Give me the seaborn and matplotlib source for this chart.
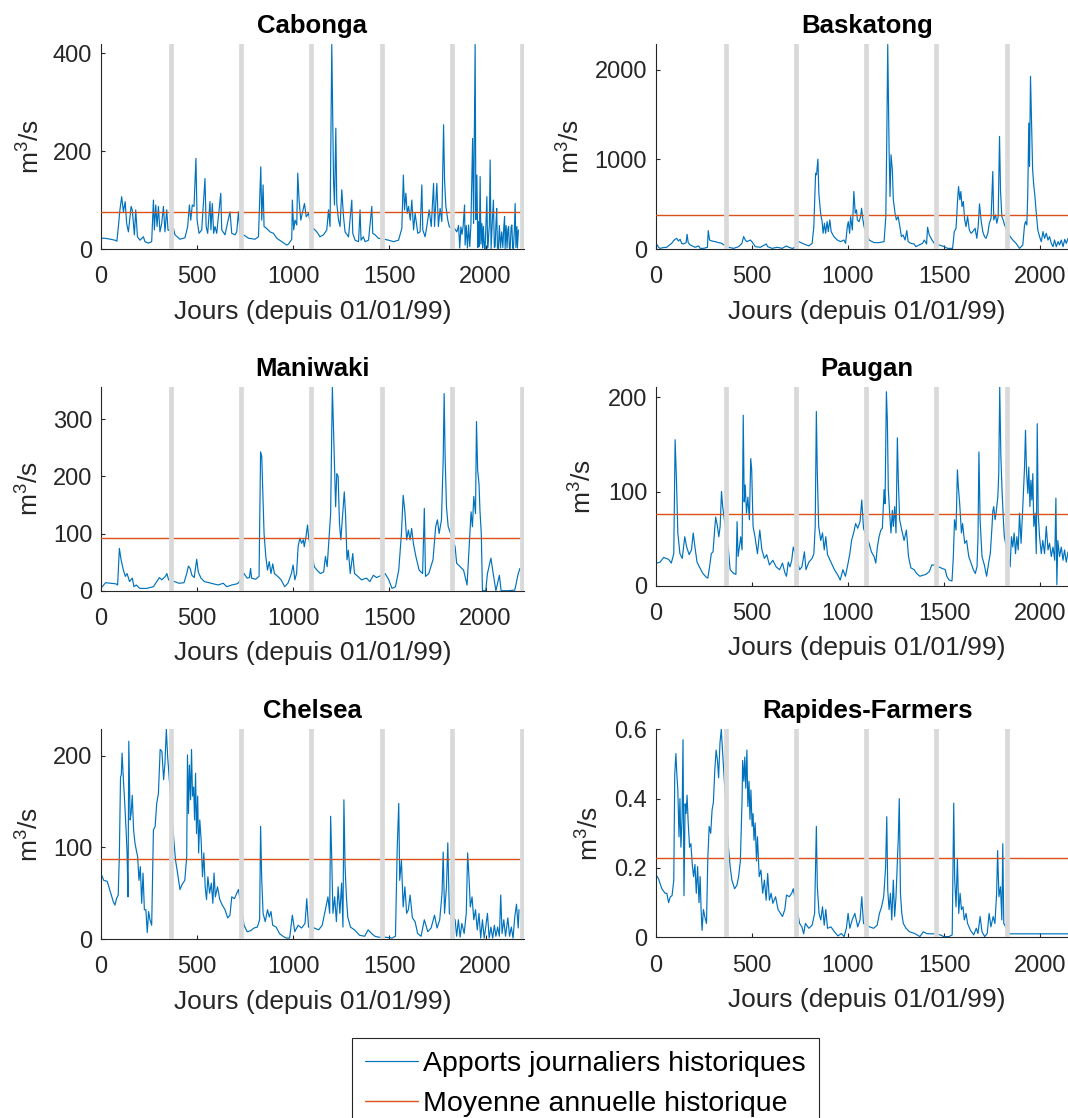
import matplotlib
matplotlib.use("Agg")
import matplotlib.pyplot as plt
import matplotlib.transforms as mtransforms
from matplotlib.lines import Line2D
from matplotlib.ticker import FuncFormatter
import pandas as pd
import seaborn as sns

# Daily inflows (day since 01/01/99, m3/s) for each station
cabonga = [
    (0, 22), (22, 22), (50, 20), (74, 18), (84, 16), (92, 46), (100, 80), (109, 107), (118, 76), (127, 97),
    (135, 52), (144, 35), (158, 87), (164, 80), (175, 29), (182, 80), (191, 25), (204, 18), (222, 25), (230, 15),
    (248, 12), (265, 15), (274, 100), (279, 39), (286, 90), (293, 46), (300, 87), (308, 35), (317, 52), (326, 87),
    (334, 35), (343, 80), (350, 38),
    (378, 42), (386, 29), (412, 20), (438, 23), (452, 46), (461, 90), (468, 59), (476, 90), (485, 87), (495, 185),
    (501, 59), (511, 32), (525, 39), (542, 144), (548, 46), (556, 32), (568, 97), (573, 39), (580, 93), (587, 32),
    (594, 46), (603, 32), (624, 114), (629, 39), (646, 29), (655, 46), (672, 76), (681, 32), (698, 29), (707, 35),
    (716, 76), (725, 30),
    (742, 29), (768, 22), (802, 20), (820, 25), (832, 168), (837, 59), (844, 131), (849, 46), (863, 42), (880, 35),
    (898, 32), (915, 22), (941, 15), (967, 8), (976, 10), (993, 20), (996, 100), (1003, 39), (1010, 59), (1019, 49),
    (1024, 155), (1031, 100), (1040, 59), (1048, 73), (1059, 93), (1068, 66), (1080, 73), (1088, 56),
    (1106, 42), (1123, 35), (1140, 25), (1158, 29), (1175, 39), (1184, 80), (1192, 46), (1201, 418), (1210, 141),
    (1215, 90), (1222, 247), (1227, 93), (1236, 59), (1244, 46), (1253, 121), (1262, 66), (1270, 35), (1288, 25),
    (1305, 100), (1310, 32), (1322, 18), (1340, 15), (1348, 80), (1353, 18), (1365, 25), (1374, 15), (1392, 18),
    (1409, 87), (1414, 32), (1426, 29), (1443, 22),
    (1473, 20), (1496, 18), (1522, 15), (1548, 18), (1565, 42), (1573, 151), (1579, 80), (1586, 114), (1593, 73),
    (1600, 87), (1609, 59), (1617, 100), (1626, 39), (1634, 73), (1648, 32), (1660, 35), (1669, 131), (1674, 39),
    (1686, 25), (1695, 46), (1707, 80), (1718, 46), (1730, 134), (1735, 46), (1747, 134), (1755, 46), (1764, 83),
    (1773, 56), (1782, 254), (1787, 141), (1794, 87), (1804, 59), (1812, 45),
    (1839, 42), (1851, 35), (1860, 48), (1866, 2), (1872, 45), (1878, 30), (1884, 48), (1891, 90), (1894, 8),
    (1900, 48), (1906, 2), (1912, 49), (1918, 5), (1924, 48), (1929, 141), (1933, 226), (1938, 52), (1942, 233),
    (1946, 418), (1950, 60), (1955, 151), (1960, 3), (1963, 56), (1968, 5), (1972, 148), (1976, 10), (1981, 52),
    (1985, 2), (1989, 46), (1994, 2), (1998, 1), (2003, 60), (2007, 107), (2011, 2), (2015, 20), (2020, 50),
    (2024, 182), (2029, 1), (2034, 45), (2041, 100), (2046, 3), (2050, 5), (2054, 50), (2058, 83), (2062, 2),
    (2067, 1), (2072, 48), (2078, 2), (2084, 35), (2090, 3), (2095, 45), (2099, 66), (2102, 1), (2107, 48),
    (2112, 2), (2116, 40), (2120, 46), (2124, 2), (2128, 1), (2133, 45), (2137, 49), (2141, 2), (2145, 1),
    (2150, 40), (2154, 93), (2158, 3), (2163, 46), (2166, 2), (2171, 39),
]

baskatong = [
    (0, 40), (5, 30), (10, 45), (15, 20), (23, 7), (40, 15), (58, 19), (70, 40), (84, 63), (93, 90), (102, 108),
    (110, 119), (119, 89), (128, 108), (136, 63), (145, 56), (159, 71), (164, 164), (170, 71), (180, 45), (206, 19),
    (224, 34), (232, 7), (250, 7), (270, 19), (274, 205), (281, 100), (293, 89), (310, 82), (328, 71), (345, 63),
    (352, 50),
    (380, 19), (406, 7), (432, 26), (449, 63), (458, 138), (467, 100), (475, 82), (493, 100), (501, 82), (519, 26),
    (545, 19), (576, 56), (583, 26), (606, 7), (632, 19), (658, 7), (680, 34), (693, 19), (710, 7), (718, 10),
    (745, 82), (771, 56), (797, 34), (814, 63), (823, 250), (832, 845), (837, 827), (844, 1002), (849, 622),
    (858, 399), (866, 305), (871, 175), (878, 287), (884, 175), (892, 305), (898, 194), (906, 324), (913, 194),
    (927, 138), (945, 100), (962, 82), (979, 100), (988, 63), (997, 250), (1002, 305), (1009, 175), (1014, 361),
    (1023, 212), (1031, 641), (1038, 399), (1045, 436), (1049, 324), (1058, 305), (1066, 361), (1071, 454),
    (1078, 324), (1084, 250),
    (1110, 100), (1136, 71), (1162, 71), (1188, 82), (1197, 361), (1202, 1218), (1207, 2280), (1214, 1106),
    (1219, 585), (1224, 1050), (1231, 883), (1236, 548), (1245, 399), (1252, 324), (1261, 361), (1270, 250),
    (1278, 138), (1287, 156), (1297, 100), (1306, 205), (1313, 82), (1327, 63), (1344, 56), (1353, 26), (1370, 45),
    (1388, 63), (1397, 100), (1409, 56), (1414, 242), (1423, 156), (1437, 100), (1449, 63),
    (1475, 45), (1501, 26), (1518, 7), (1544, 7), (1553, 194), (1562, 231), (1570, 548), (1575, 696), (1582, 548),
    (1587, 641), (1593, 473), (1600, 529), (1607, 324), (1614, 250), (1622, 361), (1631, 212), (1640, 175),
    (1649, 194), (1661, 231), (1670, 119), (1677, 250), (1684, 503), (1692, 324), (1701, 194), (1710, 138),
    (1718, 119), (1727, 175), (1735, 287), (1744, 343), (1753, 864), (1758, 324), (1767, 380), (1774, 287),
    (1781, 361), (1788, 1255), (1793, 659), (1800, 361), (1807, 324), (1814, 268),
    (1843, 138), (1857, 100), (1874, 63), (1892, 7), (1909, 45), (1918, 268), (1923, 305), (1930, 268), (1935, 641),
    (1940, 1404), (1944, 920), (1949, 1925), (1955, 1330), (1960, 883), (1965, 734), (1972, 585), (1979, 399),
    (1987, 212), (1996, 138), (2005, 82), (2014, 194), (2022, 119), (2031, 175), (2040, 100), (2048, 138),
    (2057, 63), (2066, 26), (2074, 100), (2083, 26), (2092, 82), (2100, 45), (2109, 100), (2118, 26), (2127, 108),
    (2135, 63), (2144, 119), (2151, 63), (2160, 110), (2170, 40), (2180, 90), (2190, 50),
]

maniwaki = [
    (0, 8), (8, 7), (25, 14), (50, 13), (79, 12), (88, 10), (97, 74), (106, 54), (118, 36), (128, 25), (137, 30),
    (150, 16), (164, 22), (173, 7), (185, 10), (203, 4), (238, 4), (274, 7), (305, 23), (318, 19), (336, 25),
    (344, 30), (353, 19),
    (383, 16), (407, 13), (433, 14), (447, 30), (456, 43), (465, 39), (474, 27), (486, 23), (499, 55), (507, 33),
    (521, 22), (539, 16), (575, 13), (610, 10), (637, 13), (655, 7), (681, 10), (708, 12), (717, 14),
    (745, 30), (761, 22), (773, 23), (779, 39), (784, 22), (805, 20), (823, 25), (831, 243), (837, 235), (842, 176),
    (849, 100), (858, 60), (867, 36), (876, 51), (885, 30), (894, 47), (903, 30), (920, 25), (938, 19), (956, 7),
    (973, 13), (991, 30), (1000, 45), (1009, 19), (1018, 30), (1026, 77), (1035, 92), (1044, 83), (1053, 89),
    (1058, 77), (1067, 95), (1075, 115), (1080, 95),
    (1110, 42), (1124, 36), (1142, 30), (1159, 33), (1168, 60), (1177, 42), (1186, 89), (1195, 135), (1204, 356),
    (1213, 246), (1221, 147), (1227, 205), (1234, 200), (1241, 118), (1248, 89), (1257, 130), (1266, 173),
    (1273, 130), (1280, 54), (1287, 71), (1297, 30), (1310, 65), (1319, 30), (1337, 25), (1355, 19), (1381, 22),
    (1399, 16), (1417, 27), (1434, 23),
    (1478, 30), (1496, 20), (1514, 4), (1532, 7), (1549, 36), (1563, 100), (1572, 167), (1581, 138), (1590, 89),
    (1599, 106), (1608, 89), (1616, 109), (1625, 83), (1638, 60), (1655, 36), (1673, 30), (1682, 144), (1688, 25),
    (1705, 30), (1727, 54), (1741, 112), (1750, 124), (1759, 100), (1771, 124), (1780, 229), (1785, 345),
    (1790, 235), (1797, 147), (1806, 112),
    (1842, 77), (1850, 48), (1868, 42), (1886, 36), (1904, 10), (1918, 95), (1925, 138), (1932, 112), (1939, 165),
    (1948, 135), (1953, 296), (1959, 211), (1966, 188), (1971, 141), (1978, 100), (1984, 0), (2001, 0), (2010, 30),
    (2028, 57), (2040, 30), (2054, 0), (2072, 27), (2081, 0), (2116, 0), (2152, 1), (2170, 30), (2179, 39),
]

paugan = [
    (0, 24), (6, 24), (24, 25), (42, 30), (68, 28), (82, 24), (95, 34), (102, 155), (109, 112), (116, 56),
    (127, 34), (139, 29), (152, 52), (162, 41), (175, 33), (187, 38), (196, 56), (205, 41), (216, 25), (228, 20),
    (246, 13), (264, 9), (272, 8), (281, 20), (290, 34), (299, 36), (308, 61), (313, 73), (322, 63), (329, 52),
    (336, 63), (343, 100), (349, 84),
    (379, 38), (388, 17), (406, 13), (418, 12), (424, 68), (429, 31), (436, 41), (443, 52), (450, 38), (456, 181),
    (461, 89), (466, 107), (473, 77), (480, 94), (488, 70), (495, 135), (500, 123), (507, 63), (517, 52), (530, 34),
    (542, 59), (553, 38), (566, 29), (578, 33), (592, 22), (610, 27), (627, 20), (645, 17), (660, 24), (672, 14),
    (681, 10), (690, 25), (699, 20), (708, 27), (716, 41),
    (749, 17), (761, 20), (774, 36), (782, 17), (797, 25), (814, 29), (823, 34), (830, 63), (836, 185), (841, 119),
    (848, 63), (859, 48), (868, 56), (877, 38), (885, 52), (894, 33), (912, 25), (930, 17), (948, 11), (960, 6),
    (974, 17), (987, 10), (1001, 24), (1010, 34), (1019, 48), (1031, 57), (1040, 66), (1051, 61), (1063, 68),
    (1072, 91), (1081, 61),
    (1110, 45), (1122, 36), (1136, 31), (1145, 24), (1153, 41), (1162, 52), (1171, 59), (1179, 61), (1188, 102),
    (1193, 87), (1200, 206), (1205, 176), (1210, 102), (1217, 77), (1224, 56), (1231, 80), (1236, 63), (1243, 84),
    (1250, 56), (1257, 157), (1262, 112), (1269, 70), (1280, 59), (1292, 48), (1304, 59), (1315, 31), (1327, 19),
    (1344, 17), (1357, 13), (1374, 10), (1388, 11), (1405, 12), (1423, 15), (1436, 22), (1447, 22),
    (1495, 18), (1506, 17), (1514, 10), (1526, 6), (1541, 5), (1548, 31), (1554, 70), (1562, 59), (1569, 123),
    (1574, 105), (1581, 87), (1590, 56), (1596, 66), (1607, 45), (1617, 48), (1628, 31), (1640, 24), (1652, 17),
    (1662, 13), (1671, 20), (1676, 50), (1681, 142), (1687, 70), (1697, 31), (1709, 22), (1721, 10), (1732, 25),
    (1740, 34), (1749, 63), (1753, 79), (1758, 84), (1765, 70), (1770, 77), (1779, 94), (1784, 119), (1789, 211),
    (1795, 137), (1801, 102), (1808, 70), (1813, 52),
    (1843, 20), (1850, 52), (1857, 41), (1864, 56), (1871, 34), (1878, 52), (1885, 38), (1892, 77), (1900, 45),
    (1909, 84), (1918, 126), (1923, 165), (1928, 123), (1935, 98), (1940, 126), (1946, 84), (1951, 112), (1956, 91),
    (1961, 119), (1966, 63), (1973, 77), (1979, 34), (1984, 172), (1989, 77), (1996, 52), (2005, 34), (2013, 48),
    (2022, 34), (2031, 63), (2040, 38), (2048, 45), (2057, 31), (2066, 41), (2075, 27), (2081, 93), (2086, 1),
    (2091, 48), (2100, 31), (2109, 41), (2118, 27), (2126, 38), (2135, 25), (2144, 36), (2151, 31), (2165, 35),
    (2180, 28),
]

chelsea = [
    (0, 70), (4, 70), (16, 64), (34, 63), (52, 50), (65, 41), (74, 37), (82, 44), (91, 48), (97, 92), (103, 177),
    (107, 179), (111, 203), (118, 174), (125, 148), (132, 119), (137, 94), (142, 46), (146, 216), (153, 130),
    (158, 137), (164, 157), (171, 119), (178, 105), (185, 97), (192, 90), (199, 64), (206, 79), (213, 39), (220, 72),
    (227, 32), (235, 32), (242, 7), (249, 30), (256, 21), (265, 15), (274, 119), (283, 123), (291, 148), (300, 159),
    (309, 207), (318, 205), (327, 174), (334, 192), (341, 229), (348, 199),
    (380, 108), (389, 86), (398, 74), (412, 54), (424, 60), (437, 64), (447, 90), (451, 201), (456, 137), (461, 190),
    (467, 152), (472, 207), (477, 156), (483, 166), (488, 130), (493, 181), (498, 115), (504, 156), (509, 94),
    (515, 130), (522, 108), (529, 68), (536, 94), (543, 57), (550, 43), (557, 68), (566, 50), (575, 61), (583, 39),
    (589, 72), (596, 46), (607, 57), (619, 43), (632, 37), (646, 32), (660, 23), (672, 26), (681, 46), (695, 44),
    (707, 50), (716, 54),
    (745, 15), (761, 8), (779, 9), (797, 12), (814, 13), (826, 21), (831, 123), (837, 64), (844, 28), (855, 19),
    (867, 32), (876, 24), (885, 30), (894, 15), (912, 13), (929, 6), (947, 3), (965, 1), (982, 1), (996, 26),
    (1009, 8), (1026, 15), (1044, 12), (1062, 17), (1071, 44), (1080, 13),
    (1110, 12), (1133, 10), (1151, 15), (1168, 32), (1181, 46), (1190, 28), (1195, 134), (1200, 94), (1207, 28),
    (1216, 46), (1225, 19), (1234, 57), (1243, 28), (1252, 61), (1259, 13), (1264, 152), (1270, 79), (1277, 46),
    (1284, 24), (1298, 13), (1319, 10), (1346, 4), (1372, 3), (1390, 10), (1408, 6), (1425, 3), (1443, 2),
    (1478, 2), (1514, 1), (1532, 3), (1541, 99), (1549, 148), (1554, 64), (1563, 86), (1572, 35), (1581, 57),
    (1590, 28), (1599, 32), (1608, 48), (1620, 23), (1634, 19), (1647, 6), (1665, 3), (1682, 21), (1700, 8),
    (1717, 12), (1735, 26), (1748, 12), (1762, 21), (1774, 50), (1780, 95), (1787, 28), (1797, 57), (1804, 105),
    (1812, 28),
    (1842, 21), (1850, 3), (1859, 21), (1868, 2), (1877, 17), (1889, 6), (1900, 28), (1907, 94), (1914, 68),
    (1921, 35), (1930, 46), (1939, 21), (1948, 32), (1957, 10), (1966, 28), (1975, 1), (1984, 21), (1993, 1),
    (2001, 13), (2010, 28), (2019, 1), (2028, 13), (2037, 1), (2046, 15), (2054, 3), (2063, 13), (2072, 3),
    (2079, 48), (2086, 6), (2095, 21), (2104, 3), (2116, 23), (2125, 3), (2134, 13), (2143, 1), (2152, 24),
    (2161, 38), (2170, 12), (2174, 32),
]

rapides_farmers = [
    (0, 0.18), (2, 0.18), (15, 0.17), (33, 0.14), (50, 0.127), (59, 0.127), (68, 0.10), (77, 0.117), (86, 0.12),
    (95, 0.165), (100, 0.468), (106, 0.53), (111, 0.47), (116, 0.425), (122, 0.29), (127, 0.40), (132, 0.26),
    (138, 0.34), (143, 0.57), (148, 0.12), (154, 0.385), (159, 0.357), (164, 0.41), (170, 0.33), (177, 0.26),
    (184, 0.27), (191, 0.21), (198, 0.175), (205, 0.21), (212, 0.127), (219, 0.204), (226, 0.10), (232, 0.175),
    (237, 0.08), (242, 0.02), (249, 0.08), (258, 0.055), (265, 0.04), (272, 0.23), (279, 0.32), (287, 0.30),
    (294, 0.367), (301, 0.39), (308, 0.48), (315, 0.54), (322, 0.51), (328, 0.46), (335, 0.56), (342, 0.60),
    (347, 0.55),
    (379, 0.26), (388, 0.204), (397, 0.165), (411, 0.14), (423, 0.15), (432, 0.175), (441, 0.22), (450, 0.40),
    (453, 0.51), (459, 0.45), (464, 0.52), (469, 0.43), (475, 0.54), (480, 0.377), (486, 0.45), (491, 0.34),
    (496, 0.425), (502, 0.32), (507, 0.357), (512, 0.28), (518, 0.33), (525, 0.22), (530, 0.29), (539, 0.175),
    (548, 0.194), (557, 0.127), (566, 0.165), (575, 0.107), (583, 0.184), (592, 0.107), (601, 0.127), (610, 0.098),
    (624, 0.117), (637, 0.08), (650, 0.069), (660, 0.06), (672, 0.08), (681, 0.122), (695, 0.117), (708, 0.127),
    (716, 0.14),
    (749, 0.04), (761, 0.03), (770, 0.01), (779, 0.04), (797, 0.026), (814, 0.035), (827, 0.069), (836, 0.32),
    (841, 0.146), (850, 0.069), (859, 0.05), (868, 0.088), (877, 0.035), (885, 0.08), (894, 0.026), (912, 0.03),
    (930, 0.016), (948, 0.004), (966, 0.011), (980, 0.002), (992, 0.026), (1001, 0.069), (1010, 0.026),
    (1022, 0.05), (1036, 0.069), (1051, 0.03), (1063, 0.05), (1072, 0.117), (1081, 0.04),
    (1113, 0.03), (1134, 0.026), (1152, 0.035), (1164, 0.069), (1175, 0.088), (1186, 0.117), (1196, 0.204),
    (1202, 0.348), (1207, 0.136), (1214, 0.08), (1221, 0.127), (1228, 0.05), (1236, 0.165), (1243, 0.06),
    (1250, 0.117), (1257, 0.22), (1262, 0.29), (1267, 0.40), (1273, 0.127), (1280, 0.069), (1288, 0.04),
    (1302, 0.026), (1320, 0.016), (1347, 0.011), (1374, 0.002), (1392, 0.016), (1409, 0.011), (1427, 0.01),
    (1445, 0.01),
    (1480, 0.007), (1498, 0.002), (1525, 0.002), (1542, 0.007), (1550, 0.387), (1555, 0.165), (1562, 0.088),
    (1569, 0.228), (1576, 0.069), (1583, 0.127), (1590, 0.08), (1598, 0.088), (1605, 0.05), (1614, 0.069),
    (1622, 0.04), (1637, 0.02), (1654, 0.007), (1667, 0.026), (1676, 0.011), (1687, 0.06), (1697, 0.016),
    (1711, 0.002), (1724, 0.011), (1734, 0.069), (1743, 0.03), (1755, 0.06), (1764, 0.04), (1773, 0.127),
    (1778, 0.25), (1785, 0.117), (1793, 0.146), (1800, 0.05), (1805, 0.27), (1810, 0.04),
    (1841, 0.01), (2200, 0.01),
]

# Historical annual mean per station (m3/s)
annual_means = {
    "Cabonga": 75.6, "Baskatong": 380, "Maniwaki": 91.7,
    "Paugan": 75.8, "Chelsea": 87.8, "Rapides-Farmers": 0.228,
}

# Axis limits and ticks per station
y_max = {"Cabonga": 419, "Baskatong": 2285, "Maniwaki": 357,
         "Paugan": 211.3, "Chelsea": 229, "Rapides-Farmers": 0.6}
y_ticks = {"Cabonga": [0, 200, 400], "Baskatong": [0, 1000, 2000],
           "Maniwaki": [0, 100, 200, 300], "Paugan": [0, 100, 200],
           "Chelsea": [0, 100, 200], "Rapides-Farmers": [0, 0.2, 0.4, 0.6]}
x_ticks = [0, 500, 1000, 1500, 2000]
year_ends = [365, 730, 1095, 1460, 1825, 2190]

series = {"Cabonga": cabonga, "Baskatong": baskatong, "Maniwaki": maniwaki,
          "Paugan": paugan, "Chelsea": chelsea, "Rapides-Farmers": rapides_farmers}

frames = []
for name, pts in series.items():
    d = pd.DataFrame(pts, columns=["jour", "debit"])
    d["station"] = name
    frames.append(d)
data = pd.concat(frames, ignore_index=True)

BLUE = "#0072BD"
ORANGE = "#D95319"
GREY = "#D9D9D9"
INK = "#262626"

sns.set_theme(style="white")
plt.rcParams.update({
    "font.family": ["Liberation Sans", "DejaVu Sans"],
    "mathtext.fontset": "custom",
    "mathtext.rm": "Liberation Sans",
    "mathtext.it": "Liberation Sans:italic",
    "mathtext.bf": "Liberation Sans:bold",
})

W, H = 1068, 1118
fig = plt.figure(figsize=(W / 100, H / 100), dpi=100)

# panel boxes in pixels: left, top, right, bottom ; ylabel offset from the axis
layout = {
    "Cabonga": ((100.7, 44, 524, 249), 70),
    "Baskatong": ((655.5, 44, 1078.8, 249), 84),
    "Maniwaki": ((100.7, 386.7, 524, 590.7), 70.7),
    "Paugan": ((655.5, 386.7, 1078.8, 585.7), 72),
    "Chelsea": ((100.7, 729.3, 524, 939), 70.7),
    "Rapides-Farmers": ((655.5, 729.3, 1078.8, 937.3), 65.5),
}

for name, ((l, t, r, b), ylab_dx) in layout.items():
    ax = fig.add_axes([l / W, 1 - b / H, (r - l) / W, (b - t) / H])
    sub = data[data["station"] == name]
    sns.lineplot(data=sub, x="jour", y="debit", ax=ax, color=BLUE, linewidth=0.85,
                 estimator=None, sort=False, legend=False)
    ax.axhline(annual_means[name], color=ORANGE, linewidth=1.0, zorder=3)
    for d in year_ends:
        ax.axvline(d, color=GREY, linewidth=3.4, zorder=5)

    ax.set_xlim(0, 2200)
    ax.set_ylim(0, y_max[name])
    ax.set_xticks(x_ticks)
    ax.set_yticks(y_ticks[name])
    ax.yaxis.set_major_formatter(FuncFormatter(lambda v, p: f"{v:g}"))

    for side in ("top", "right"):
        ax.spines[side].set_visible(False)
    for side in ("left", "bottom"):
        ax.spines[side].set_color(INK)
        ax.spines[side].set_linewidth(0.8)
    ax.tick_params(axis="both", direction="in", length=3, width=0.8, colors=INK,
                   labelsize=17, left=True, bottom=True)
    ax.tick_params(axis="x", pad=12.5)
    ax.tick_params(axis="y", pad=6)

    ax.set_title(name, fontsize=18.5, fontweight="bold", pad=8, color="black")
    ax.set_xlabel("Jours (depuis 01/01/99)", fontsize=19, color=INK)
    ax.set_ylabel("m$^{\\mathregular{3}}$/s", fontsize=19, color=INK)
    ax.xaxis.set_label_coords(
        0.5, 0, transform=ax.transAxes + mtransforms.ScaledTranslation(0, -62.7 / 100, fig.dpi_scale_trans))
    ax.xaxis.label.set_va("center")
    ax.yaxis.set_label_coords(
        0, 0.5, transform=ax.transAxes + mtransforms.ScaledTranslation(-ylab_dx / 100, 0, fig.dpi_scale_trans))
    ax.yaxis.label.set_va("center")
    ax.set_facecolor("white")

handles = [Line2D([], [], color=BLUE, linewidth=0.85), Line2D([], [], color=ORANGE, linewidth=1.0)]
leg = fig.legend(handles, ["Apports journaliers historiques", "Moyenne annuelle historique"],
                 loc="upper center", bbox_to_anchor=(585.5 / W, 1 - 1038 / H),
                 fontsize=20.5, frameon=True, fancybox=False, framealpha=1, edgecolor=INK,
                 borderpad=0.45, handlelength=1.85, handletextpad=0.2, labelspacing=0.5,
                 borderaxespad=0)
leg.get_frame().set_linewidth(0.8)
for txt in leg.get_texts():
    txt.set_color("black")

fig.savefig("out.png", dpi=100, facecolor="white")
